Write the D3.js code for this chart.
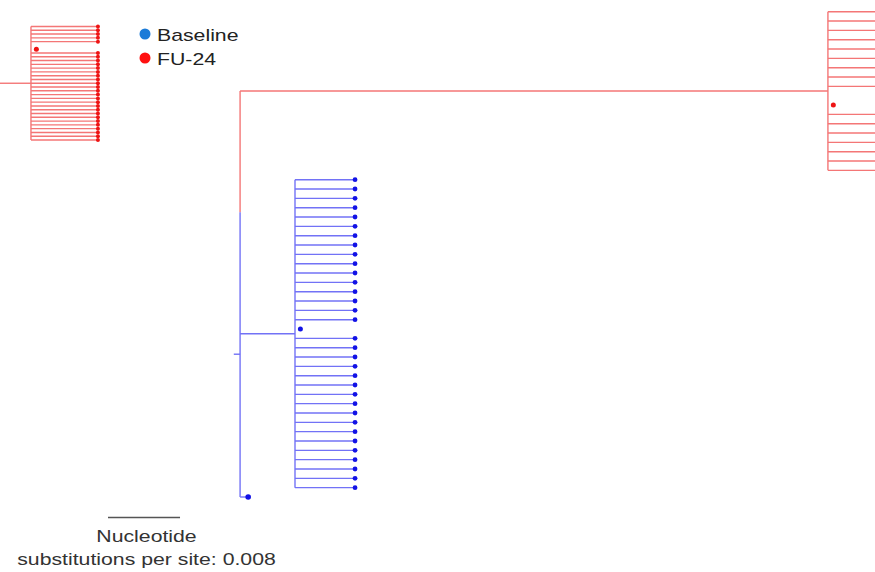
<!DOCTYPE html>
<html>
<head>
<meta charset="utf-8">
<script src="https://cdn.jsdelivr.net/npm/d3@7"></script>
<style>
  html, body { margin: 0; padding: 0; background: #fff; }
  svg { display: block; }
</style>
</head>
<body>
<svg id="chart" width="875" height="572"></svg>
<script>
// ---------- data ----------
const groups = ["Baseline", "FU-24"];
const groupColors = ["#1b7bd8", "#ff1010"];

// Leaf order top to bottom, one char per row:
// L = sequence on its own branch, D = sequence sitting on its node (zero length), "-" = empty row
const fuRows    = "LLLLLLLLL-DLLLLLLL";                   // FU-24 clade (right)
const baseRows  = "LLLLLLLLLLLLLLLLDLLLLLLLLLLLLLLLLL";   // Baseline clade
const insetRows = "LLLLL-DLLLLLLLLLLLLLLLLLLLLLLLL";      // FU-24 clade (left, cropped)

// Branch lengths (nucleotide substitutions per site)
const rootDepth     = 0.02667;
const fuStem        = 0.0653;
const fuLeaf        = 0.0060;
const baseStem      = 0.0061;
const baseLeaf      = 0.00667;
const singletonLeaf = 0.0009;
const zeroLeaf      = 0.0006;
const insetStem     = 0.00344;
const insetLeaf     = 0.00744;
const rootTickLen   = 0.0007;

const scaleBarValue = 0.008;
const scaleBarLabel = ["Nucleotide", "substitutions per site: 0.008"];

// row where the two clade colours meet on the root line, and root tick row
const rootRow = 21.5;
const rootTickRow = 36.7;

// ---------- drawing ----------
const svg = d3.select("#chart");
const x = d3.scaleLinear().domain([0, 0.0972]).range([0, 875]);

const nFu = fuRows.length, nBase = baseRows.length;
const totalRows = nFu + nBase + 1;
const y = d3.scaleLinear().domain([0, totalRows - 1]).range([11.7, 497]);
const yInset = d3.scaleLinear().domain([0, insetRows.length - 1]).range([26.5, 140]);

const RED_LINE = "#f47676", BLUE_LINE = "#7272f6";
const RED_DOT = "#ee1414", BLUE_DOT = "#1212e6";
const lw = 1.4;

function line(g, x1, y1, x2, y2, c) {
  g.append("line").attr("x1", x1).attr("y1", y1).attr("x2", x2).attr("y2", y2)
    .attr("stroke", c).attr("stroke-width", lw);
}
function dot(g, cx, cy, r, c) {
  g.append("circle").attr("cx", cx).attr("cy", cy).attr("r", r).attr("fill", c);
}

// clade drawer
function clade(g, rows, rowOffset, yS, nodeDepth, leafLen, lineC, dotC, tipDots, tipR) {
  const xn = x(nodeDepth);
  const first = rowOffset, last = rowOffset + rows.length - 1;
  line(g, xn, yS(first), xn, yS(last), lineC);
  rows.split("").forEach((k, i) => {
    const yy = yS(rowOffset + i);
    if (k === "L") {
      line(g, xn, yy, x(nodeDepth + leafLen), yy, lineC);
      if (tipDots) dot(g, x(nodeDepth + leafLen), yy, tipR, dotC);
    } else if (k === "D") {
      dot(g, x(nodeDepth + zeroLeaf), yy, 2.5, dotC);
    }
  });
  return yS((first + last) / 2);
}

const g = svg.append("g");

// inset clade (left)
const insetMid = yInset((insetRows.length - 1) / 2);
line(g, x(0), insetMid, x(insetStem), insetMid, RED_LINE);
clade(g, insetRows, 0, yInset, insetStem, insetLeaf, RED_LINE, RED_DOT, true, 2.0);

// main tree
const rootX = x(rootDepth);
const fuMid = y((nFu - 1) / 2);
const baseMid = y(nFu + (nBase - 1) / 2);
const singleRow = totalRows - 1;

// root verticals
line(g, rootX, y(rootRow), rootX, fuMid, RED_LINE);
line(g, rootX, y(rootRow), rootX, y(singleRow), BLUE_LINE);
// root tick
line(g, x(rootDepth - rootTickLen), y(rootTickRow), rootX, y(rootTickRow), BLUE_LINE);

// FU-24 clade
line(g, rootX, fuMid, x(rootDepth + fuStem), fuMid, RED_LINE);
clade(g, fuRows, 0, y, rootDepth + fuStem, fuLeaf, RED_LINE, RED_DOT, false, 0);

// Baseline clade
line(g, rootX, baseMid, x(rootDepth + baseStem), baseMid, BLUE_LINE);
clade(g, baseRows, nFu, y, rootDepth + baseStem, baseLeaf, BLUE_LINE, BLUE_DOT, true, 2.4);

// singleton
line(g, rootX, y(singleRow), x(rootDepth + singletonLeaf), y(singleRow), BLUE_LINE);
dot(g, x(rootDepth + singletonLeaf), y(singleRow), 2.8, BLUE_DOT);

// ---------- legend ----------
const stretch = 1.25;
const leg = svg.append("g");
groups.forEach((name, i) => {
  const ly = 34 + i * 24;
  leg.append("ellipse").attr("cx", 145).attr("cy", ly).attr("rx", 5.5).attr("ry", 5.5)
    .attr("fill", groupColors[i]);
  leg.append("text")
    .attr("transform", `translate(157,${ly + 7}) scale(${stretch},1)`)
    .attr("font-family", "Liberation Sans, Arial, sans-serif")
    .attr("font-size", 17)
    .attr("fill", "#222")
    .text(name);
});

// ---------- scale bar ----------
const sbX = 108, sbY = 517.5;
svg.append("line")
  .attr("x1", sbX).attr("x2", sbX + (x(scaleBarValue) - x(0)))
  .attr("y1", sbY).attr("y2", sbY)
  .attr("stroke", "#555").attr("stroke-width", 1.5);
scaleBarLabel.forEach((t, i) => {
  svg.append("text")
    .attr("transform", `translate(146.5,${541.5 + i * 23.5}) scale(${stretch},1)`)
    .attr("text-anchor", "middle")
    .attr("font-family", "Liberation Sans, Arial, sans-serif")
    .attr("font-size", 17)
    .attr("fill", "#333")
    .text(t);
});
</script>
</body>
</html>
